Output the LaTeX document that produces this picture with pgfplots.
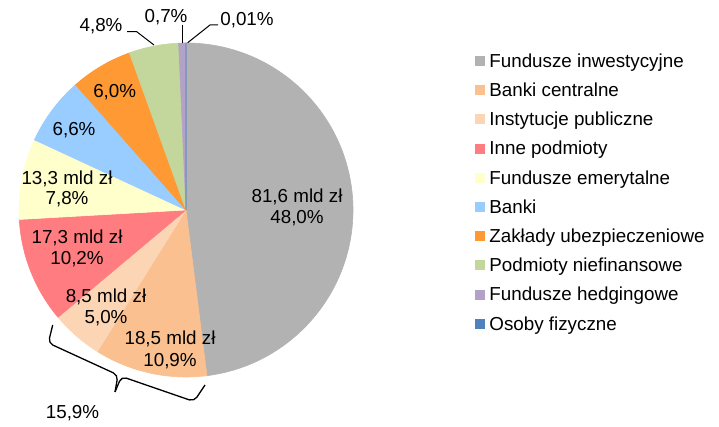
\documentclass[border=0pt]{standalone}
\usepackage{pgfplots}
\pgfplotsset{compat=1.18}
\usepackage{pgfplotstable}
\usepackage{fontspec}
\setmainfont{Liberation Sans}
\definecolor{cInw}{HTML}{B2B2B2}
\definecolor{cCB}{HTML}{FAC090}
\definecolor{cInst}{HTML}{FCD5B5}
\definecolor{cInne}{HTML}{FF7C80}
\definecolor{cEm}{HTML}{FFFFCC}
\definecolor{cBanki}{HTML}{99CCFF}
\definecolor{cZak}{HTML}{FF9933}
\definecolor{cNief}{HTML}{C3D69B}
\definecolor{cHedge}{HTML}{B3A2C7}
\definecolor{cOsoby}{HTML}{4F81BD}
\pgfplotstableread{
share col
48.0 cInw
10.9 cCB
5.0 cInst
10.2 cInne
7.8 cEm
6.6 cBanki
6.0 cZak
4.8 cNief
0.7 cHedge
0.01 cOsoby
}\piedata
\newcommand\legitem[3]{\fill[#2] (axis cs:475,#1-5) rectangle (axis cs:485,#1+5);
  \node[anchor=base west, inner sep=0pt] at (axis cs:489,#1+6.3) {#3};}
\begin{document}
\begin{tikzpicture}[font=\fontsize{9.4}{10.8}\selectfont]
\begin{axis}[x=0.5pt, y=0.5pt, xmin=0, xmax=719, ymin=0, ymax=427, y dir=reverse,
  hide axis, clip=false]
\path (axis cs:0,0) rectangle (axis cs:719,427);
\def\cum{0}
\pgfplotsforeachungrouped \i in {0,...,9}{%
  \pgfplotstablegetelem{\i}{share}\of\piedata \let\val\pgfplotsretval
  \pgfplotstablegetelem{\i}{col}\of\piedata \let\colname\pgfplotsretval
  \pgfmathsetmacro{\angA}{90-3.6*\cum}
  \pgfmathsetmacro{\angB}{90-3.6*(\cum+\val)}
  \pgfmathsetmacro{\cum}{\cum+\val}
  \edef\temp{\noexpand\fill[\colname, draw=\colname, line width=0.3pt] (axis cs:186,210) -- ++(\angA:83.5pt) arc[start angle=\angA, end angle=\angB, radius=83.5pt] -- cycle;}
  \temp
}
% labels
\node[anchor=base, inner sep=0pt] at (axis cs:297,203) {81,6 mld zł};
\node[anchor=base, inner sep=0pt] at (axis cs:297,224) {48,0\%};
\node[anchor=base, inner sep=0pt] at (axis cs:170,345) {18,5 mld zł};
\node[anchor=base, inner sep=0pt] at (axis cs:170,366.7) {10,9\%};
\node[anchor=base, inner sep=0pt] at (axis cs:106,302.7) {8,5 mld zł};
\node[anchor=base, inner sep=0pt] at (axis cs:106,324) {5,0\%};
\node[anchor=base, inner sep=0pt] at (axis cs:77,243.3) {17,3 mld zł};
\node[anchor=base, inner sep=0pt] at (axis cs:77,265) {10,2\%};
\node[anchor=base, inner sep=0pt] at (axis cs:67,185) {13,3 mld zł};
\node[anchor=base, inner sep=0pt] at (axis cs:67,205) {7,8\%};
\node[anchor=base, inner sep=0pt] at (axis cs:74,136) {6,6\%};
\node[anchor=base, inner sep=0pt] at (axis cs:114.7,97.3) {6,0\%};
\node[anchor=base, inner sep=0pt] at (axis cs:101,31.7) {4,8\%};
\node[anchor=base, inner sep=0pt] at (axis cs:166,22.7) {0,7\%};
\node[anchor=base, inner sep=0pt] at (axis cs:247,25.3) {0,01\%};
\node[anchor=base, inner sep=0pt] at (axis cs:72.5,418.3) {15,9\%};
% leader lines
\draw[line width=0.5pt] (axis cs:127,31.7) -- (axis cs:136.7,31.7) -- (axis cs:154,45);
\draw[line width=0.5pt] (axis cs:182.7,25) -- (axis cs:182.7,42.7);
\draw[line width=0.5pt] (axis cs:218,25) -- (axis cs:210,25) -- (axis cs:187.7,42.7);
% brace
\draw[line width=0.65pt, rounded corners=2.5pt] (axis cs:52.7,325) -- (axis cs:48.3,343) -- (axis cs:118,375) -- (axis cs:115,392);
\draw[line width=0.65pt, rounded corners=2.5pt] (axis cs:115,392) -- (axis cs:121.5,376.5) -- (axis cs:194,401.5) -- (axis cs:205,385);
% legend
\legitem{61}{cInw}{Fundusze inwestycyjne}
\legitem{90.2}{cCB}{Banki centralne}
\legitem{119.4}{cInst}{Instytucje publiczne}
\legitem{148.6}{cInne}{Inne podmioty}
\legitem{177.8}{cEm}{Fundusze emerytalne}
\legitem{207}{cBanki}{Banki}
\legitem{236.2}{cZak}{Zakłady ubezpieczeniowe}
\legitem{265.4}{cNief}{Podmioty niefinansowe}
\legitem{294.6}{cHedge}{Fundusze hedgingowe}
\legitem{323.8}{cOsoby}{Osoby fizyczne}
\end{axis}
\end{tikzpicture}
\end{document}
